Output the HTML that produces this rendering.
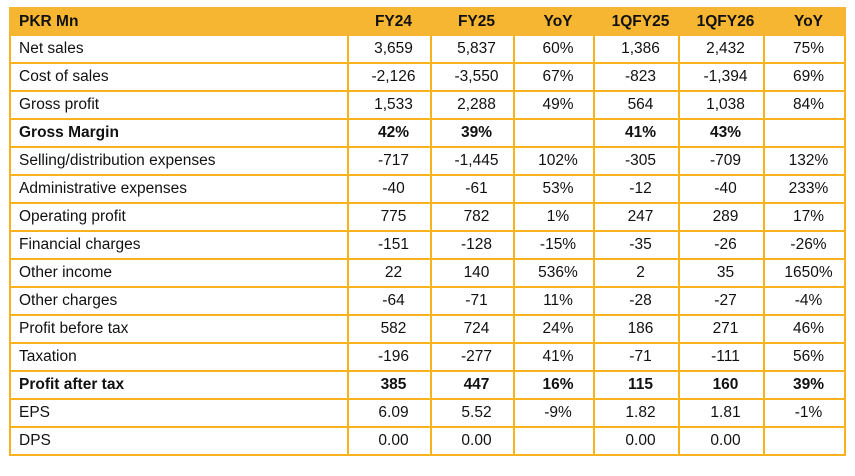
<!DOCTYPE html>
<html><head><style>
body{margin:0;background:#fff;width:855px;height:476px;overflow:hidden}
table{position:absolute;left:9px;top:7px;border-collapse:collapse;font-family:"Liberation Sans",sans-serif;font-size:15.5px;color:#111}
td{border:2px solid #F7B21E;height:26px;padding:0 0 0 8px;text-align:center;white-space:nowrap}
td:first-child{text-align:left}
tr.h td{background:#F6B632;font-weight:bold;height:25px;border-color:#F6B632}
tr.b td{font-weight:bold}
</style></head><body>
<table>
<colgroup><col style="width:338px"><col style="width:83px"><col style="width:83px"><col style="width:80px"><col style="width:85px"><col style="width:85px"><col style="width:81px"></colgroup>
<tr class="h"><td>PKR Mn</td><td>FY24</td><td>FY25</td><td>YoY</td><td>1QFY25</td><td>1QFY26</td><td>YoY</td></tr>
<tr><td>Net sales</td><td>3,659</td><td>5,837</td><td>60%</td><td>1,386</td><td>2,432</td><td>75%</td></tr>
<tr><td>Cost of sales</td><td>-2,126</td><td>-3,550</td><td>67%</td><td>-823</td><td>-1,394</td><td>69%</td></tr>
<tr><td>Gross profit</td><td>1,533</td><td>2,288</td><td>49%</td><td>564</td><td>1,038</td><td>84%</td></tr>
<tr class="b"><td>Gross Margin</td><td>42%</td><td>39%</td><td></td><td>41%</td><td>43%</td><td></td></tr>
<tr><td>Selling/distribution expenses</td><td>-717</td><td>-1,445</td><td>102%</td><td>-305</td><td>-709</td><td>132%</td></tr>
<tr><td>Administrative expenses</td><td>-40</td><td>-61</td><td>53%</td><td>-12</td><td>-40</td><td>233%</td></tr>
<tr><td>Operating profit</td><td>775</td><td>782</td><td>1%</td><td>247</td><td>289</td><td>17%</td></tr>
<tr><td>Financial charges</td><td>-151</td><td>-128</td><td>-15%</td><td>-35</td><td>-26</td><td>-26%</td></tr>
<tr><td>Other income</td><td>22</td><td>140</td><td>536%</td><td>2</td><td>35</td><td>1650%</td></tr>
<tr><td>Other charges</td><td>-64</td><td>-71</td><td>11%</td><td>-28</td><td>-27</td><td>-4%</td></tr>
<tr><td>Profit before tax</td><td>582</td><td>724</td><td>24%</td><td>186</td><td>271</td><td>46%</td></tr>
<tr><td>Taxation</td><td>-196</td><td>-277</td><td>41%</td><td>-71</td><td>-111</td><td>56%</td></tr>
<tr class="b"><td>Profit after tax</td><td>385</td><td>447</td><td>16%</td><td>115</td><td>160</td><td>39%</td></tr>
<tr><td>EPS</td><td>6.09</td><td>5.52</td><td>-9%</td><td>1.82</td><td>1.81</td><td>-1%</td></tr>
<tr><td>DPS</td><td>0.00</td><td>0.00</td><td></td><td>0.00</td><td>0.00</td><td></td></tr>
</table>
</body></html>
